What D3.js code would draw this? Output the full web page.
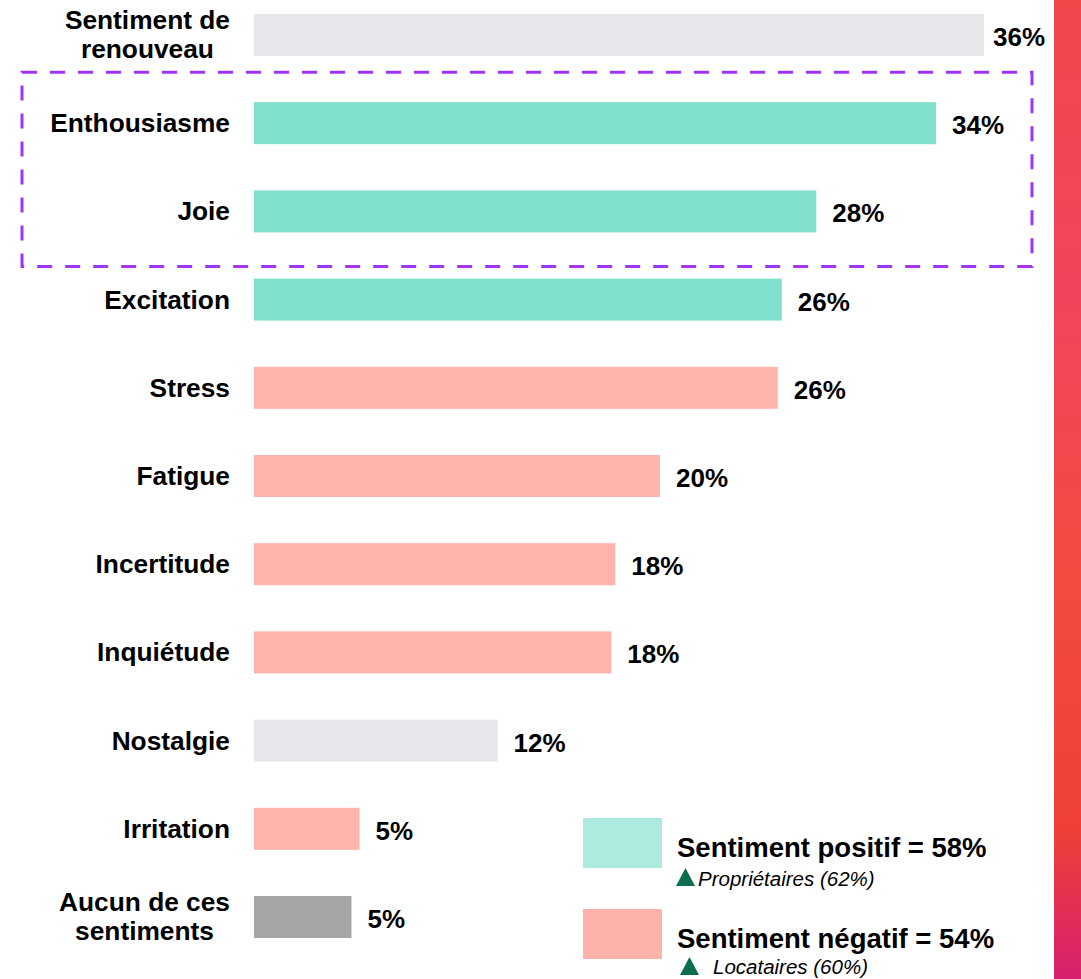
<!DOCTYPE html>
<html>
<head>
<meta charset="utf-8">
<script src="https://cdn.jsdelivr.net/npm/d3@7"></script>
<style>
  body { margin: 0; background: #fff; }
  svg text { font-family: "Liberation Sans", Arial, sans-serif; }
</style>
</head>
<body>
<div id="chart"></div>
<script>
var categories = ["Sentiment de\nrenouveau", "Enthousiasme", "Joie", "Excitation", "Stress", "Fatigue",
                  "Incertitude", "Inquiétude", "Nostalgie", "Irritation", "Aucun de ces\nsentiments"];
var values = [35.96, 33.6, 27.7, 26.0, 25.8, 20.0, 17.8, 17.6, 12.0, 5.2, 4.8];
var groups = ["neutre", "positif", "positif", "positif", "negatif", "negatif",
              "negatif", "negatif", "neutre", "negatif", "aucun"];
var highlighted = ["Enthousiasme", "Joie"];
var legendTitles = ["Sentiment positif = 58%", "Sentiment négatif = 54%"];
var legendNotes = ["Propriétaires (62%)", "Locataires (60%)"];

var width = 1081, height = 979;
var color_bar = d3.scaleOrdinal()
  .domain(["neutre", "positif", "negatif", "aucun"])
  .range(["#e6e6eb", "#80e0cc", "#feb3ab", "#a6a6a6"]);
var legendColors = ["#adebdf", "#fdb2aa"];

var svg = d3.select("#chart").append("svg")
  .attr("width", width)
  .attr("height", height);

// side gradient band
var defs = svg.append("defs");
var grad = defs.append("linearGradient").attr("id", "sideGrad")
  .attr("x1", 0).attr("y1", 0).attr("x2", 0).attr("y2", 1);
[[0, "#f3474c"], [0.3, "#f2455c"], [0.6, "#f44a40"], [0.85, "#ef3f38"], [1, "#d81f6e"]].forEach(function(s) {
  grad.append("stop").attr("offset", s[0]).attr("stop-color", s[1]);
});
svg.append("rect").attr("x", 1054).attr("y", 0).attr("width", 27).attr("height", height)
  .attr("fill", "url(#sideGrad)");

var y = d3.scaleBand()
  .domain(categories)
  .range([14, 938])
  .paddingInner(1 - 42 / 88.2)
  .paddingOuter(0);

var x = d3.scaleLinear()
  .domain([0, 40])
  .range([254, 254 + 812]);

// dashed highlight box
var boxTop = y(highlighted[0]) - 30;
var boxBottom = y(highlighted[highlighted.length - 1]) + y.bandwidth() + 34;
svg.append("rect")
  .attr("x", 22).attr("y", boxTop)
  .attr("width", 1032 - 22).attr("height", boxBottom - boxTop)
  .attr("fill", "none")
  .attr("stroke", "#9d36f7")
  .attr("stroke-width", 3)
  .attr("stroke-dasharray", "15,13");

// bars
svg.selectAll(".bar")
  .data(categories)
  .enter()
  .append("rect")
  .attr("class", "bar")
  .attr("x", x(0))
  .attr("y", function(d) { return y(d); })
  .attr("width", function(d, i) { return x(values[i]) - x(0); })
  .attr("height", y.bandwidth())
  .attr("fill", function(d, i) { return color_bar(groups[i]); });

// value labels
svg.selectAll(".val")
  .data(categories)
  .enter()
  .append("text")
  .attr("class", "val")
  .attr("x", function(d, i) { return Math.min(x(values[i]) + 16, 993); })
  .attr("y", function(d) { return y(d) + y.bandwidth() / 2 + 11; })
  .attr("font-size", 26)
  .attr("font-weight", "bold")
  .attr("fill", "#000")
  .text(function(d, i) { return Math.round(values[i]) + "%"; });

// category labels
var labelRight = 230;
categories.forEach(function(c) {
  var lines = c.split("\n");
  var cy = y(c) + y.bandwidth() / 2;
  var t = svg.append("text")
    .attr("font-size", 26.3)
    .attr("font-weight", "bold")
    .attr("fill", "#000");
  if (lines.length === 1) {
    t.attr("x", labelRight).attr("y", cy + 9).attr("text-anchor", "end").text(c);
  } else {
    var spans = t.selectAll("tspan").data(lines).enter().append("tspan")
      .attr("y", function(d, i) { return cy - 6.5 + i * 29; })
      .text(function(d) { return d; });
    var maxW = 0;
    spans.each(function() { maxW = Math.max(maxW, this.getComputedTextLength()); });
    spans.attr("x", labelRight - maxW / 2).attr("text-anchor", "middle");
  }
});

// legend
var legend = svg.selectAll(".legend")
  .data(legendTitles)
  .enter()
  .append("g")
  .attr("class", "legend")
  .attr("transform", function(d, i) { return "translate(583," + (818 + i * 91) + ")"; });

legend.append("rect")
  .attr("width", 79).attr("height", 50)
  .attr("fill", function(d, i) { return legendColors[i]; });

legend.append("text")
  .attr("x", 94).attr("y", 39)
  .attr("font-size", 27.5)
  .attr("font-weight", "bold")
  .text(function(d) { return d; });

legend.append("path")
  .attr("d", function(d, i) {
    var x0 = i === 0 ? 93 : 97, yb = i === 0 ? 68 : 66;
    return "M" + x0 + "," + yb + " L" + (x0 + 19) + "," + yb + " L" + (x0 + 9.5) + "," + (yb - 18) + " Z";
  })
  .attr("fill", "#0d6e4f");

legend.append("text")
  .attr("x", function(d, i) { return i === 0 ? 115 : 130; })
  .attr("y", function(d, i) { return i === 0 ? 68 : 65; })
  .attr("font-size", 20.5)
  .attr("font-style", "italic")
  .text(function(d, i) { return legendNotes[i]; });
</script>
</body>
</html>
